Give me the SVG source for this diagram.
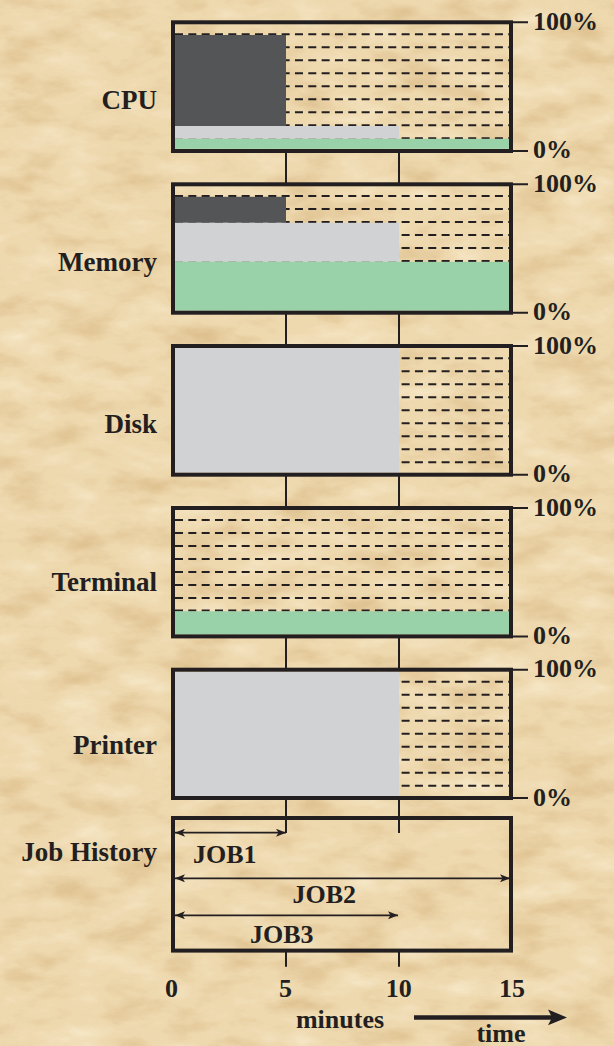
<svg xmlns="http://www.w3.org/2000/svg" width="614" height="1046" viewBox="0 0 614 1046">
<defs>
<filter id="paper" x="0" y="0" width="100%" height="100%" color-interpolation-filters="sRGB">
<feTurbulence type="fractalNoise" baseFrequency="0.018 0.04" numOctaves="5" seed="7" result="n"/>
<feColorMatrix in="n" type="matrix" values="0 0 0 0 0.86  0 0 0 0 0.74  0 0 0 0 0.54  2.2 0 0 0 -1.12" result="dark"/>
<feColorMatrix in="n" type="matrix" values="0 0 0 0 0.97  0 0 0 0 0.92  0 0 0 0 0.80  -2.2 0 0 0 1.0" result="light"/>
<feMerge><feMergeNode in="dark"/><feMergeNode in="light"/></feMerge>
</filter>
<marker id="ah" viewBox="0 0 10 8" refX="10" refY="4" markerWidth="10" markerHeight="8" markerUnits="userSpaceOnUse" orient="auto-start-reverse">
<path d="M0,0 L10,4 L0,8 L2.5,4 Z" fill="#231F20"/>
</marker>
<style>
.lbl{font-family:"Liberation Serif","Times New Roman",serif;font-weight:bold;font-size:26px;fill:#231F20}
.side{font-size:27px}
.box{fill:none;stroke:#231F20;stroke-width:4}
.dash{stroke:#231F20;stroke-width:2;stroke-dasharray:8 5.33}
.tick{stroke:#231F20;stroke-width:2}
.dk{fill:#545557}
.lg{fill:#D1D2D4}
.gr{fill:#99D1A9}
.job{stroke:#231F20;stroke-width:1.8;marker-start:url(#ah);marker-end:url(#ah)}
</style>
</defs>
<rect x="0" y="0" width="614" height="1046" fill="#EED8AE"/>
<rect x="0" y="0" width="614" height="1046" filter="url(#paper)"/>

<g id="cpu">
<path class="dash" d="M175,34.3H509M175,47.3H509M175,60.3H509M175,73.3H509M175,86.3H509M175,99.3H509M175,112.3H509M175,125.3H509M175,138.3H509"/>
<rect class="dk" x="175" y="35" width="111" height="91"/>
<rect class="lg" x="175" y="126" width="224" height="12.8"/>
<rect class="gr" x="175" y="138.8" width="334" height="10"/>
<rect class="box" x="173" y="22.3" width="338" height="128.7"/>
<path class="tick" d="M513,22.3H528M513,151H528"/>
<text class="lbl" x="533" y="29.5">100%</text>
<text class="lbl" x="533" y="158.3">0%</text>
<text class="lbl side" x="157" y="109.3" text-anchor="end">CPU</text>
</g>

<g id="memory">
<path class="dash" d="M175,196H509M175,209H509M175,222H509M175,235H509M175,248H509M175,261H509"/>
<rect class="dk" x="175" y="196.8" width="111" height="26"/>
<rect class="lg" x="175" y="222.8" width="224" height="39"/>
<rect class="gr" x="175" y="261.8" width="334" height="48.9"/>
<rect class="box" x="173" y="184.3" width="338" height="128.4"/>
<path class="tick" d="M513,184.3H528M513,312.7H528"/>
<text class="lbl" x="533" y="191.7">100%</text>
<text class="lbl" x="533" y="320">0%</text>
<text class="lbl side" x="157" y="270.5" text-anchor="end">Memory</text>
</g>

<g id="disk">
<path class="dash" d="M175,358.3H509M175,371.3H509M175,384.3H509M175,397.3H509M175,410.3H509M175,423.3H509M175,436.3H509M175,449.3H509M175,462.3H509"/>
<rect class="lg" x="175" y="348" width="224" height="124.7"/>
<rect class="box" x="173" y="346" width="338" height="128.7"/>
<path class="tick" d="M513,346H528M513,474.7H528"/>
<text class="lbl" x="533" y="353.5">100%</text>
<text class="lbl" x="533" y="482">0%</text>
<text class="lbl side" x="157" y="432.5" text-anchor="end">Disk</text>
</g>

<g id="terminal">
<path class="dash" d="M175,520H509M175,533H509M175,546H509M175,559H509M175,572H509M175,585H509M175,598H509M175,610.5H509"/>
<rect class="gr" x="175" y="611.3" width="334" height="23.2"/>
<rect class="box" x="173" y="508" width="338" height="128.4"/>
<path class="tick" d="M513,508H528M513,636.4H528"/>
<text class="lbl" x="533" y="515.5">100%</text>
<text class="lbl" x="533" y="643.8">0%</text>
<text class="lbl side" x="157" y="590.8" text-anchor="end">Terminal</text>
</g>

<g id="printer">
<path class="dash" d="M175,681.8H509M175,694.8H509M175,707.8H509M175,720.8H509M175,733.8H509M175,746.8H509M175,759.8H509M175,772.8H509M175,785.8H509"/>
<rect class="lg" x="175" y="671.7" width="224" height="124.3"/>
<rect class="box" x="173" y="669.7" width="338" height="128.3"/>
<path class="tick" d="M513,669.7H528M513,798H528"/>
<text class="lbl" x="533" y="677">100%</text>
<text class="lbl" x="533" y="805.5">0%</text>
<text class="lbl side" x="157" y="754" text-anchor="end">Printer</text>
</g>

<g id="job-history">
<rect class="box" x="173" y="818" width="338" height="132.6"/>
<text class="lbl side" x="157" y="861" text-anchor="end">Job History</text>
</g>

<g id="connectors">
<path class="tick" d="M286,151V184.3M399,151V184.3M286,312.7V346M399,312.7V346M286,474.7V508M399,474.7V508M286,636.4V669.7M399,636.4V669.7M286,798V833M399,798V833M286,950.6V966.7M399,950.6V966.7"/>
<line class="job" x1="175" y1="832.7" x2="286" y2="832.7"/>
<line class="job" x1="175" y1="878.3" x2="510" y2="878.3"/>
<line class="job" x1="175" y1="915.3" x2="398" y2="915.3"/>
<path d="M414,1017.4H553" stroke="#231F20" stroke-width="4.5"/>
<path d="M548,1009.5L567,1017.4L548,1025.3L552,1017.4Z" fill="#231F20"/>
</g>

<g id="labels">
<text class="lbl" x="193" y="863.3">JOB1</text>
<text class="lbl" x="292.5" y="902.7">JOB2</text>
<text class="lbl" x="250" y="942.7">JOB3</text>
<text class="lbl" x="171.5" y="996.7" text-anchor="middle">0</text>
<text class="lbl" x="285.5" y="996.7" text-anchor="middle">5</text>
<text class="lbl" x="398.8" y="996.7" text-anchor="middle">10</text>
<text class="lbl" x="512" y="996.7" text-anchor="middle">15</text>
<text class="lbl" x="340" y="1028" text-anchor="middle">minutes</text>
<text class="lbl" x="501" y="1041.7" text-anchor="middle">time</text>
</g>
</svg>
